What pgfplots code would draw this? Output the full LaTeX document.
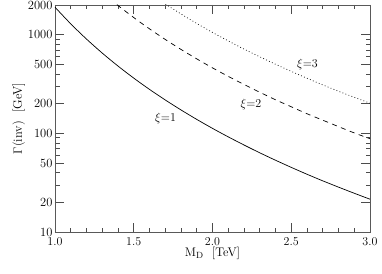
\documentclass[border=0pt]{standalone}
\usepackage{pgfplots}
\pgfplotsset{compat=1.18}
\begin{document}
\begin{tikzpicture}
\begin{axis}[
  name=ax,
  scale only axis,
  width=315pt, height=227pt,
  xmin=1.0, xmax=3.0,
  ymin=10, ymax=2000,
  ymode=log,
  axis line style={line width=0.9pt, black!65},
  xtick={1.0,1.5,2.0,2.5,3.0},
  minor xtick={1.1,1.2,1.3,1.4,1.6,1.7,1.8,1.9,2.1,2.2,2.3,2.4,2.6,2.7,2.8,2.9},
  ytick={10,20,50,100,200,500,1000,2000},
  yticklabels={10,20,50,100,200,500,1000,2000},
  minor ytick={30,40,60,70,80,90,300,400,600,700,800,900},
  xticklabel style={/pgf/number format/fixed,/pgf/number format/fixed zerofill,/pgf/number format/precision=1},
  tick style={line width=0.8pt, black!70},
  major tick length=9pt, minor tick length=4.5pt,
  tick align=inside,
  tick pos=both,
  tick label style={font=\fontsize{12.5}{14}\selectfont},
  label style={font=\fontsize{12.5}{14}\selectfont},
  xticklabel shift=2pt,
  yticklabel shift=-1pt,
  xlabel={M$_{\rm D}$\ \ [TeV]},
  ylabel={$\Gamma$(inv)\ \ [GeV]},
  xlabel style={yshift=5pt},
  ylabel style={yshift=-4pt},
  clip=true,
]
\addplot[black, line width=0.7pt, smooth] coordinates {
(1.0,1900)(1.1,1288)(1.2,903)(1.3,651)(1.4,481)(1.5,363)(1.6,279)(1.7,218)
(1.8,172.7)(1.9,138.5)(2.0,112.3)(2.1,92.1)(2.2,76.2)(2.3,63.5)(2.4,53.4)
(2.5,45.2)(2.6,38.5)(2.7,33.0)(2.8,28.5)(2.9,24.7)(3.0,21.5)};
\addplot[black, line width=0.7pt, dash pattern=on 5pt off 4.5pt, smooth] coordinates {
(1.3,2674)(1.4,1977)(1.5,1492)(1.6,1146)(1.7,895)(1.8,709)(1.9,569)(2.0,461)
(2.1,378)(2.2,313)(2.3,261)(2.4,219)(2.5,186)(2.6,158)(2.7,136)(2.8,117)
(2.9,101)(3.0,88.2)};
\addplot[black, line width=0.7pt, dash pattern=on 0.8pt off 2.4pt, smooth] coordinates {
(1.6,2623)(1.7,2048)(1.8,1622)(1.9,1301)(2.0,1055)(2.1,865)(2.2,715)(2.3,597)
(2.4,502)(2.5,425)(2.6,362)(2.7,310)(2.8,267)(2.9,232)(3.0,202)};
\node[font=\fontsize{12.5}{14}\selectfont] at (axis cs:1.702,143) {$\xi{=}1$};
\node[font=\fontsize{12.5}{14}\selectfont] at (axis cs:2.244,194) {$\xi{=}2$};
\node[font=\fontsize{12.5}{14}\selectfont] at (axis cs:2.603,493) {$\xi{=}3$};
\end{axis}
\pgfresetboundingbox
\path (ax.south west) ++(-55pt,-41pt) rectangle ++(382pt,273pt);
\end{tikzpicture}
\end{document}
